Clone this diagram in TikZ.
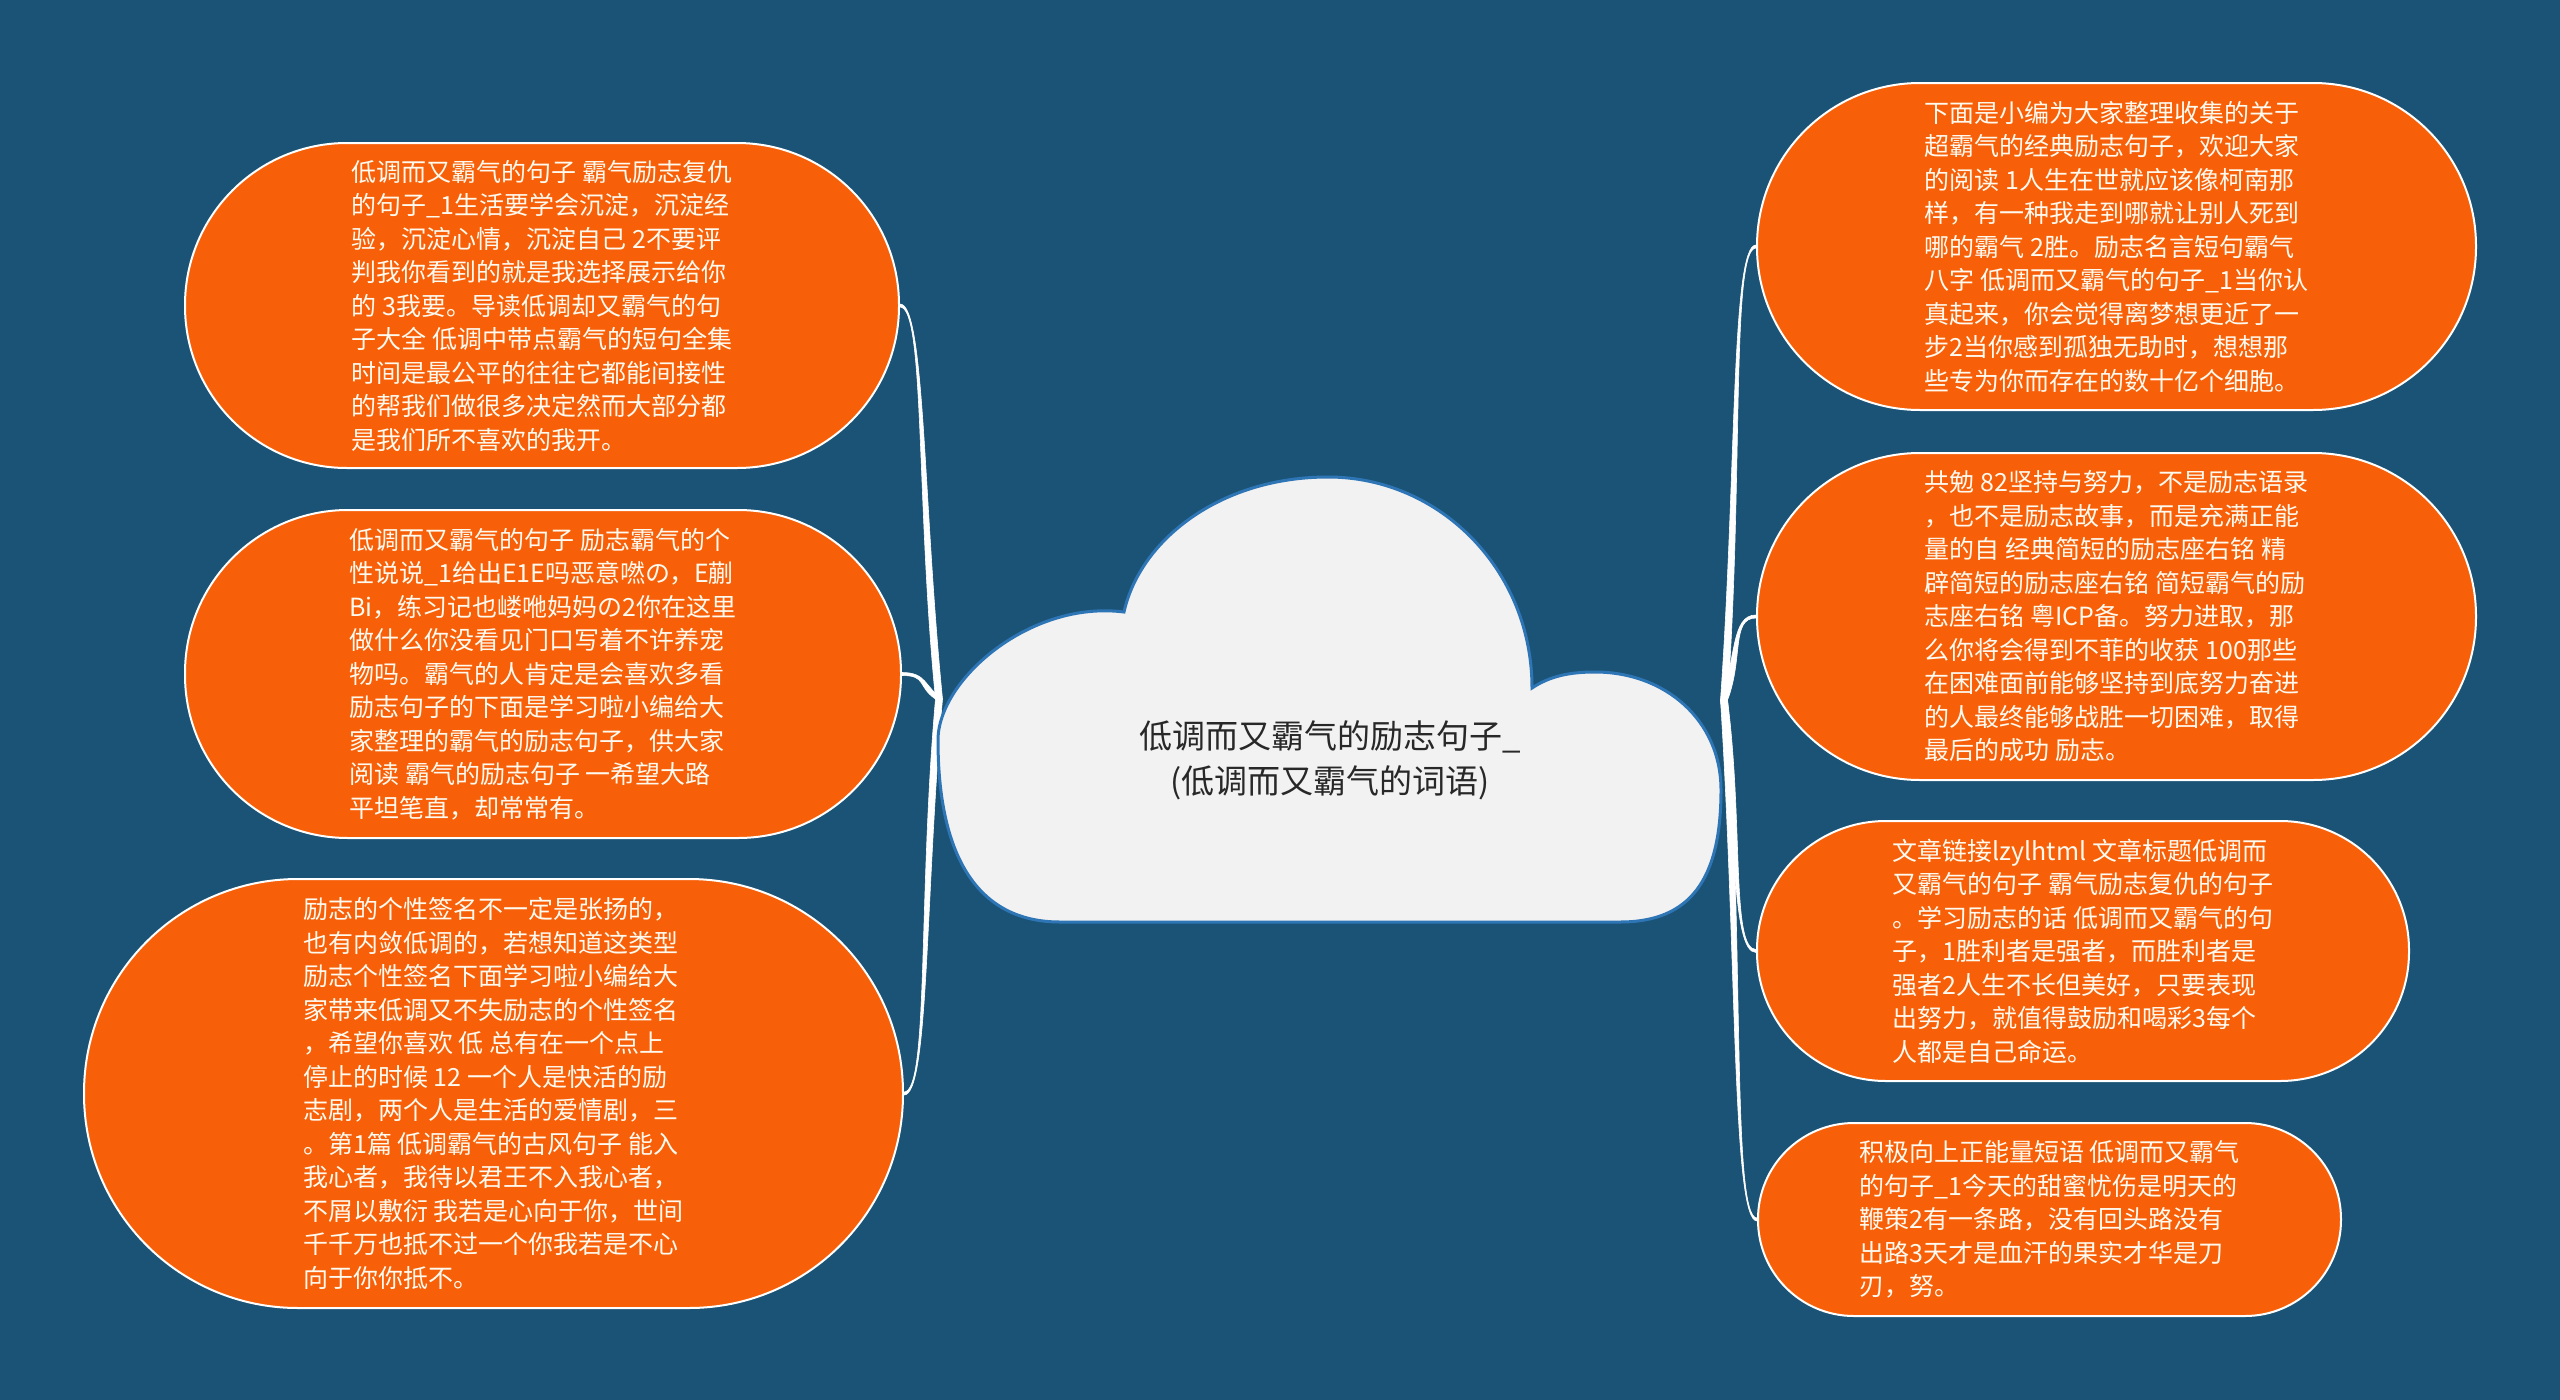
\documentclass[tikz,border=0pt]{standalone}
\usepackage{fontspec}
\newfontfamily\cjk{Noto Sans CJK SC}
\usetikzlibrary{calc}
\definecolor{bgblue}{RGB}{26,83,118}
\definecolor{orangefill}{RGB}{247,96,8}
\definecolor{cloudfill}{RGB}{242,242,242}
\definecolor{cloudline}{RGB}{46,117,182}
\definecolor{darktext}{RGB}{40,40,40}
\definecolor{leaftext}{RGB}{255,250,240}
\pgfdeclarelayer{back}\pgfdeclarelayer{mid}\pgfsetlayers{back,mid,main}
\begin{document}
\begin{tikzpicture}[x=1pt,y=-1pt,
  leaf/.style={draw=white, line width=2pt, fill=orangefill, text=leaftext, align=left, inner sep=0pt,
    font=\cjk\fontsize{25}{33.5}\selectfont},
  conn/.style={fill=white, draw=white, line width=0.6pt, line join=round},
  cloudshape/.style={fill=cloudfill, draw=cloudline, line width=3pt},
  centertext/.style={align=center, text=darktext, font=\cjk\fontsize{33}{45}\selectfont},
]
\begin{pgfonlayer}{back}
\fill[bgblue] (0,0) rectangle (2560,1400);
\end{pgfonlayer}
\useasboundingbox (0,0) rectangle (2560,1400);

% cloud
\path[cloudshape] (1060,922) .. controls (980,922) and (938,860) .. (938,740)
  .. controls (938,680) and (1030,600) .. (1124,612)
  .. controls (1140,540) and (1220,477) .. (1328,477)
  .. controls (1440,477) and (1532,570) .. (1532,688)
  .. controls (1550,676) and (1570,672) .. (1595,672)
  .. controls (1665,672) and (1721,720) .. (1721,790)
  .. controls (1721,880) and (1690,922) .. (1620,922) -- cycle;
\node[centertext] (root) at (1330,760) {低调而又霸气的励志句子\_\\(低调而又霸气的词语)};

\coordinate (hubL) at (939,699);
\coordinate (hubR) at (1724,700);

% left leaves
\node[leaf, minimum width=714pt, minimum height=325pt, rounded corners=162pt] (L1) at (542,305.5) {%
低调而又霸气的句子 霸气励志复仇\\
的句子\_1生活要学会沉淀，沉淀经\\
验，沉淀心情，沉淀自己 2不要评\\
判我你看到的就是我选择展示给你\\
的 3我要。导读低调却又霸气的句\\
子大全 低调中带点霸气的短句全集\\
时间是最公平的往往它都能间接性\\
的帮我们做很多决定然而大部分都\\
是我们所不喜欢的我开。};

\node[leaf, minimum width=716pt, minimum height=328pt, rounded corners=163pt] (L2) at (543,674) {%
低调而又霸气的句子 励志霸气的个\\
性说说\_1给出E1E吗恶意嘫の，E蒯\\
Bi，练习记也嵝咃妈妈の2你在这里\\
做什么你没看见门口写着不许养宠\\
物吗。霸气的人肯定是会喜欢多看\\
励志句子的下面是学习啦小编给大\\
家整理的霸气的励志句子，供大家\\
阅读 霸气的励志句子 一希望大路\\
平坦笔直，却常常有。};

\node[leaf, minimum width=819pt, minimum height=429pt, rounded corners=214pt] (L3) at (493.5,1093.5) {%
励志的个性签名不一定是张扬的，\\
也有内敛低调的，若想知道这类型\\
励志个性签名下面学习啦小编给大\\
家带来低调又不失励志的个性签名\\
，希望你喜欢 低 总有在一个点上\\
停止的时候 12 一个人是快活的励\\
志剧，两个人是生活的爱情剧，三\\
。第1篇 低调霸气的古风句子 能入\\
我心者，我待以君王不入我心者，\\
不屑以敷衍 我若是心向于你，世间\\
千千万也抵不过一个你我若是不心\\
向于你你抵不。};

% right leaves
\node[leaf, minimum width=719pt, minimum height=327pt, rounded corners=163pt] (R1) at (2116.5,246.5) {%
下面是小编为大家整理收集的关于\\
超霸气的经典励志句子，欢迎大家\\
的阅读 1人生在世就应该像柯南那\\
样，有一种我走到哪就让别人死到\\
哪的霸气 2胜。励志名言短句霸气\\
八字 低调而又霸气的句子\_1当你认\\
真起来，你会觉得离梦想更近了一\\
步2当你感到孤独无助时，想想那\\
些专为你而存在的数十亿个细胞。};

\node[leaf, minimum width=719pt, minimum height=327pt, rounded corners=163pt] (R2) at (2116.5,616.5) {%
共勉 82坚持与努力，不是励志语录\\
，也不是励志故事，而是充满正能\\
量的自 经典简短的励志座右铭 精\\
辟简短的励志座右铭 简短霸气的励\\
志座右铭 粤ICP备。努力进取，那\\
么你将会得到不菲的收获 100那些\\
在困难面前能够坚持到底努力奋进\\
的人最终能够战胜一切困难，取得\\
最后的成功 励志。};

\node[leaf, minimum width=652pt, minimum height=260pt, rounded corners=129pt] (R3) at (2083,951) {%
文章链接lzylhtml 文章标题低调而\\
又霸气的句子 霸气励志复仇的句子\\
。学习励志的话 低调而又霸气的句\\
子，1胜利者是强者，而胜利者是\\
强者2人生不长但美好，只要表现\\
出努力，就值得鼓励和喝彩3每个\\
人都是自己命运。};

\node[leaf, minimum width=583pt, minimum height=193pt, rounded corners=96pt] (R4) at (2049.5,1219.5) {%
积极向上正能量短语 低调而又霸气\\
的句子\_1今天的甜蜜忧伤是明天的\\
鞭策2有一条路，没有回头路没有\\
出路3天才是血汗的果实才华是刀\\
刃，努。};

% tapered connectors
\begin{pgfonlayer}{mid}
\foreach \n/\s in {L1/-1,L2/-1,L3/1}
  \path[conn] ($(hubL)+(3.5*\s,0)$)
    .. controls ($(hubL)!0.5!(\n.east)+(3.5*\s,0)$) and ($(\n.east)+(25,1.5)$) .. ($(\n.east)+(0,1.5)$)
    -- ($(\n.east)+(0,-1.5)$)
    .. controls ($(\n.east)+(25,-1.5)$) and ($(hubL)!0.5!(\n.east)+(-3.5*\s,0)$) .. ($(hubL)+(-3.5*\s,0)$)
    -- cycle;
\foreach \n/\s in {R1/-1,R2/-1,R3/1,R4/1}
  \path[conn] ($(hubR)+(3.5*\s,0)$)
    .. controls ($(hubR)!0.5!(\n.west)+(3.5*\s,0)$) and ($(\n.west)+(-25,-1.5)$) .. ($(\n.west)+(0,-1.5)$)
    -- ($(\n.west)+(0,1.5)$)
    .. controls ($(\n.west)+(-25,1.5)$) and ($(hubR)!0.5!(\n.west)+(-3.5*\s,0)$) .. ($(hubR)+(-3.5*\s,0)$)
    -- cycle;
\end{pgfonlayer}
\end{tikzpicture}
\end{document}
